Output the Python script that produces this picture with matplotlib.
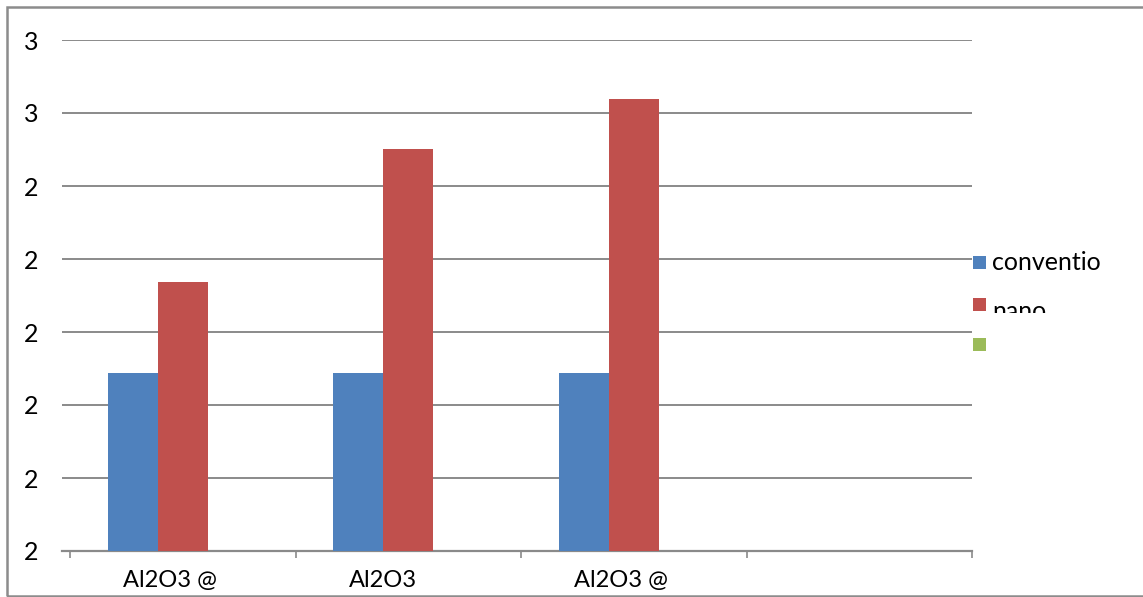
import numpy as np
import matplotlib
matplotlib.use("Agg")
import matplotlib.pyplot as plt
from matplotlib.patches import Rectangle
from matplotlib.transforms import Bbox, TransformedBbox

# Chart data
categories = ["Al2O3 @", "Al2O3", "Al2O3 @", ""]
series_names = ["conventio", "nano", ""]
conventional = [2.144, 2.144, 2.144, np.nan]
nano = [2.269, 2.451, 2.519, np.nan]
third = [np.nan, np.nan, np.nan, np.nan]
y_ticks = [1.9, 2.0, 2.1, 2.2, 2.3, 2.4, 2.5, 2.6]
y_tick_labels = ["2", "2", "2", "2", "2", "2", "3", "3"]

colors = ["#4F81BD", "#C0504D", "#9BBB59"]
grid_col = "#8a8a8a"

plt.rcParams["font.family"] = ["Lato", "DejaVu Sans"]

W, H = 1143, 597
fig = plt.figure(figsize=(W / 100, H / 100), dpi=100)
fig.patch.set_facecolor("white")

def fx(px):
    return px / W

def fy(py):
    return 1 - py / H

ax = fig.add_axes([fx(62), fy(551), fx(972) - fx(62), fy(40) - fy(551)])
ax.set_facecolor("none")

x = np.arange(len(categories))
width = 0.222
for k, vals in enumerate([conventional, nano, third]):
    ax.bar(x + (k - 1) * width, np.array(vals) - y_ticks[0], width,
           bottom=y_ticks[0], color=colors[k], zorder=3, linewidth=0)

ax.set_xlim(-0.5 - 8 / 225.5, 3.5)
ax.set_ylim(y_ticks[0], y_ticks[-1])
ax.set_yticks(y_ticks)
ax.set_yticklabels(y_tick_labels, fontsize=18)
ax.tick_params(axis="y", length=0, pad=17)
for lbl in ax.get_yticklabels():
    lbl.set_horizontalalignment("right")

ax.yaxis.grid(True, color=grid_col, linewidth=1.4, zorder=0)
ax.set_axisbelow(True)

ax.set_xticks([])
ax.set_xticks(np.arange(-0.5, 3.6, 1.0), minor=True)
ax.tick_params(axis="x", which="minor", length=5, width=1.2, color=grid_col,
               direction="out")
for i, name in enumerate(categories):
    ax.text(i - 0.265, -0.058, name, transform=ax.get_xaxis_transform(),
            ha="left", va="center", fontsize=17)

for s in ["left", "right", "top"]:
    ax.spines[s].set_visible(False)
ax.spines["bottom"].set_color(grid_col)
ax.spines["bottom"].set_linewidth(1.6)

# Outer chart frame
fig.patches.append(Rectangle((fx(7), fy(596)), 1.2, fy(7) - fy(596),
                             transform=fig.transFigure, fill=False,
                             edgecolor="#8c8c8c", linewidth=1.8))

# Legend on the right
legend_rows = [262, 304, 344]
for k, yy in enumerate(legend_rows):
    fig.patches.append(Rectangle((fx(973), fy(yy + 6.5)), fx(13), fy(0) - fy(13),
                                 transform=fig.transFigure,
                                 facecolor=colors[k], edgecolor="none"))
    if series_names[k]:
        if k == 1:
            # second entry is cut off below its upper half
            t = fig.text(fx(992), fy(319), series_names[k], fontsize=18,
                         ha="left", va="baseline")
            clip = TransformedBbox(Bbox([[fx(985), fy(313)], [fx(1120), fy(280)]]),
                                   fig.transFigure)
            t.set_clip_box(clip)
            t.set_clip_on(True)
        else:
            fig.text(fx(992), fy(yy), series_names[k], fontsize=18,
                     ha="left", va="center")

fig.savefig("out.png", dpi=100)
